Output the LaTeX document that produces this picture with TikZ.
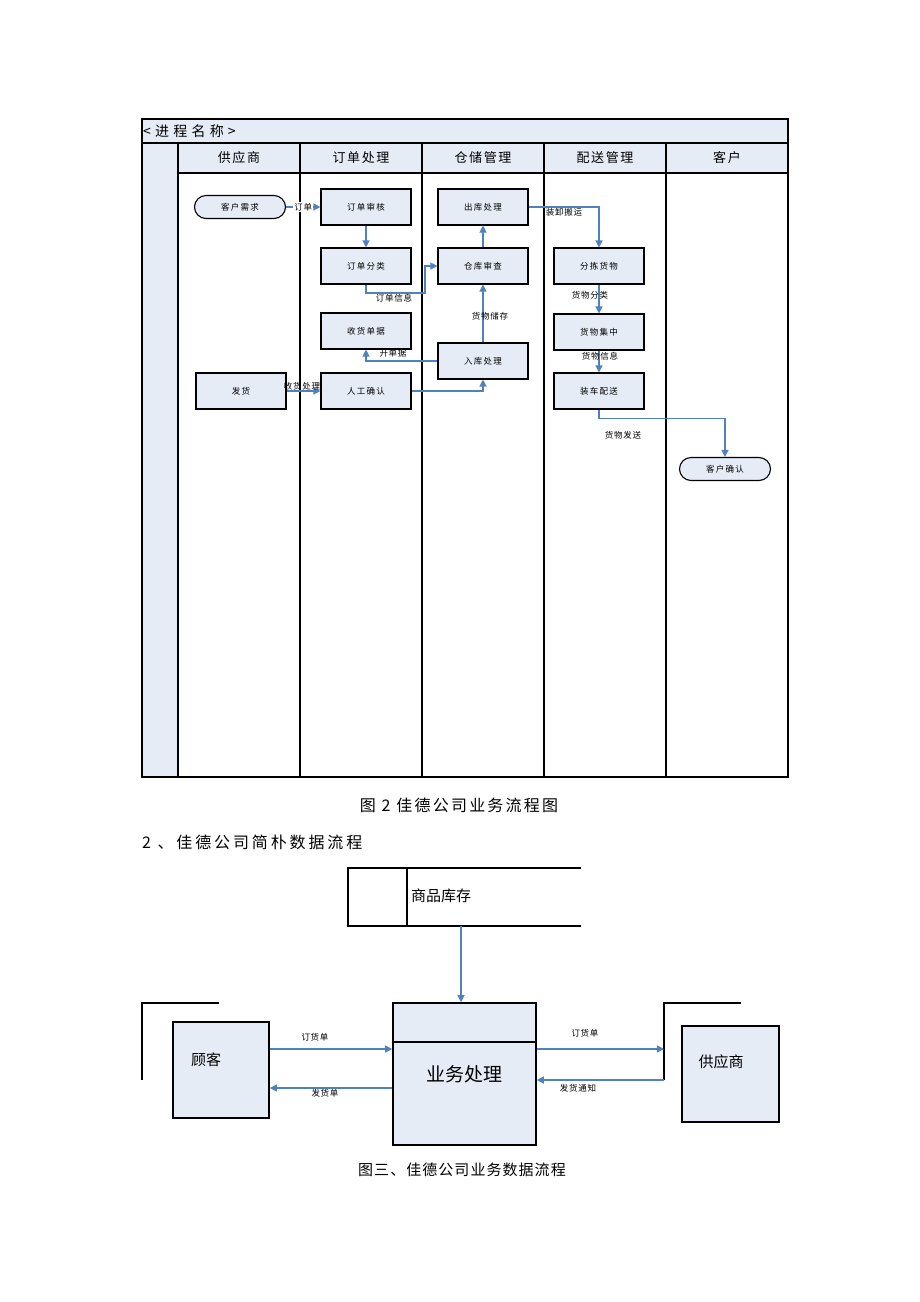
\documentclass[tikz,border=0pt]{standalone}
\usepackage{fontspec}
\setmainfont{Noto Sans CJK SC}
\usetikzlibrary{arrows.meta}
\definecolor{lanefill}{HTML}{E6ECF5}
\definecolor{flowblue}{HTML}{4F81BD}
\tikzset{
  procbox/.style={draw=black, line width=1.1pt, fill=lanefill, minimum width=90pt, minimum height=36pt, inner sep=0pt, font=\fontsize{8.5}{10}\selectfont\addfontfeature{LetterSpace=15}},
  termbox/.style={draw=black, line width=1.1pt, fill=lanefill, rounded corners=11.5pt, minimum width=91pt, minimum height=23pt, inner sep=0pt, font=\fontsize{8.5}{10}\selectfont\addfontfeature{LetterSpace=15}},
  flowarrow/.style={draw=flowblue, line width=1.2pt, -{Triangle[length=7pt,width=7pt]}},
  flowlabel/.style={font=\fontsize{8.5}{10}\selectfont\addfontfeature{LetterSpace=8}, inner sep=1pt},
  lanehead/.style={font=\fontsize{13}{15}\selectfont\addfontfeature{LetterSpace=12}},
  lanerule/.style={line width=1.3pt},
  entbox/.style={draw=black, line width=1.6pt, fill=lanefill, inner sep=0pt},
  caption/.style={font=\fontsize{16}{18}\selectfont\addfontfeature{LetterSpace=14}, inner sep=0pt}
}
\begin{document}
\begin{tikzpicture}[x=1pt, y=-1pt]
\useasboundingbox (0,0) rectangle (920,1302);

% swimlanes
\fill[lanefill] (142,119) rectangle (788,143);
\fill[lanefill] (142,143) rectangle (178,777);
\fill[lanefill] (178,143) rectangle (788,173);
\draw[lanerule] (142,119) rectangle (788,777);
\draw[lanerule] (142,143) -- (788,143);
\draw[lanerule] (178,173) -- (788,173);
\foreach \x in {178,300,422,544,666}
  \draw[lanerule] (\x,143) -- (\x,777);
\node[anchor=west, inner sep=0pt, font=\fontsize{14}{16}\selectfont\addfontfeature{LetterSpace=30}] (proc) at (143,131) {<进程名称>};
\foreach \x/\name/\lbl in {239/供应商/hd1, 361/订单处理/hd2, 483/仓储管理/hd3, 605/配送管理/hd4, 727/客户/hd5}
  \node[lanehead] (\lbl) at (\x,158) {\name};

% process steps
\node[termbox] (khxq) at (240,207) {客户需求};
\node[procbox] (ddsh) at (366,207) {订单审核};
\node[procbox] (ckcl) at (483,207) {出库处理};
\node[procbox] (ddfl) at (366,266) {订单分类};
\node[procbox] (cksc) at (483,266) {仓库审查};
\node[procbox] (fjhw) at (599,266) {分拣货物};
\node[procbox] (shdj) at (366,331) {收货单据};
\node[procbox] (hwjz) at (599,332) {货物集中};
\node[procbox] (rkcl) at (483,361) {入库处理};
\node[procbox] (fh) at (241,391) {发货};
\node[procbox] (rgqr) at (366,391) {人工确认};
\node[procbox] (zcps) at (599,391) {装车配送};
\node[termbox] (khqr) at (725,469) {客户确认};

\coordinate (bend1) at (425,293);
\draw[flowarrow] (khxq) -- (ddsh) node[flowlabel, fill=white, midway] (lb1) {订单};
\draw[flowarrow] (ddsh) -- (ddfl);
\draw[flowarrow] (ddfl.south) |- (bend1) |- (cksc.west);
\draw[flowarrow] (cksc) -- (ckcl);
\draw[flowarrow] (rkcl) -- (cksc);
\draw[flowarrow] (rkcl.west) -| (shdj.south);
\draw[flowarrow] (fh) -- (rgqr);
\draw[flowarrow] (rgqr.east) -| (rkcl.south);
\draw[flowarrow] (ckcl.east) -| (fjhw.north);
\draw[flowarrow] (fjhw) -- (hwjz);
\draw[flowarrow] (hwjz) -- (zcps);
\draw[flowarrow] (zcps.south) -- ++(0,9) -| (khqr.north);

\node[flowlabel] (lb2) at (394,298) {订单信息};
\node[flowlabel] (lb3) at (490,316) {货物储存};
\node[flowlabel] (lb4) at (393,353) {开单据};
\node[flowlabel] (lb5) at (302,386) {收货处理};
\node[flowlabel] (lb6) at (564,212) {装卸搬运};
\node[flowlabel] (lb7) at (590,295) {货物分类};
\node[flowlabel] (lb8) at (600,356) {货物信息};
\node[flowlabel] (lb9) at (623,435) {货物发送};

% captions
\node[caption] (cap1) at (459,805) {图 2 佳德公司业务流程图};
\node[caption, anchor=west, font=\fontsize{16}{18}\selectfont\addfontfeature{LetterSpace=18}] (sec2) at (142,842) {2 、佳德公司简朴数据流程};

% data flow
\draw[line width=1.3pt] (581,868) -- (348,868) -- (348,926) -- (581,926);
\draw[line width=1.3pt] (407,868) -- (407,926);
\node[font=\fontsize{15}{17}\selectfont, inner sep=0pt] (spkc) at (441,896) {商品库存};
\coordinate (store) at (461,926);

\node[entbox, minimum width=143pt, minimum height=142pt, font=\fontsize{19}{21}\selectfont] (ywcl) at (464.5,1074) {业务处理};
\draw[line width=1.6pt] (ywcl.west |- 0,1042) -- (ywcl.east |- 0,1042);
\draw[flowarrow] (store) -- (store |- ywcl.north);

\draw[line width=1.3pt] (142,1080) -- (142,1003) -- (219,1003);
\node[entbox, minimum width=96pt, minimum height=96pt] (gk) at (221,1070) {};
\node[font=\fontsize{15}{17}\selectfont, inner sep=0pt] (gktxt) at (206,1060) {顾客};

\draw[line width=1.3pt] (664,1080) -- (664,1003) -- (741,1003);
\coordinate (gyjc) at (664,1003);
\node[entbox, minimum width=97pt, minimum height=96pt] (gys) at (730.5,1074) {};
\node[font=\fontsize{15}{17}\selectfont, inner sep=0pt] (gystxt) at (721,1062) {供应商};

\draw[flowarrow] (gk.east |- 0,1049) -- (ywcl.west |- 0,1049);
\draw[flowarrow] (ywcl.west |- 0,1088) -- (gk.east |- 0,1088);
\draw[flowarrow] (ywcl.east |- 0,1049) -- (gyjc |- 0,1049);
\draw[flowarrow] (gyjc |- 0,1080) -- (ywcl.east |- 0,1080);

\node[flowlabel] (dl1) at (315,1037) {订货单};
\node[flowlabel] (dl2) at (325,1093) {发货单};
\node[flowlabel] (dl3) at (585,1033) {订货单};
\node[flowlabel] (dl4) at (578,1088) {发货通知};

\node[caption, font=\fontsize{15}{17}\selectfont\addfontfeature{LetterSpace=7}] (cap3) at (462,1170) {图三、佳德公司业务数据流程};
\end{tikzpicture}
\end{document}
